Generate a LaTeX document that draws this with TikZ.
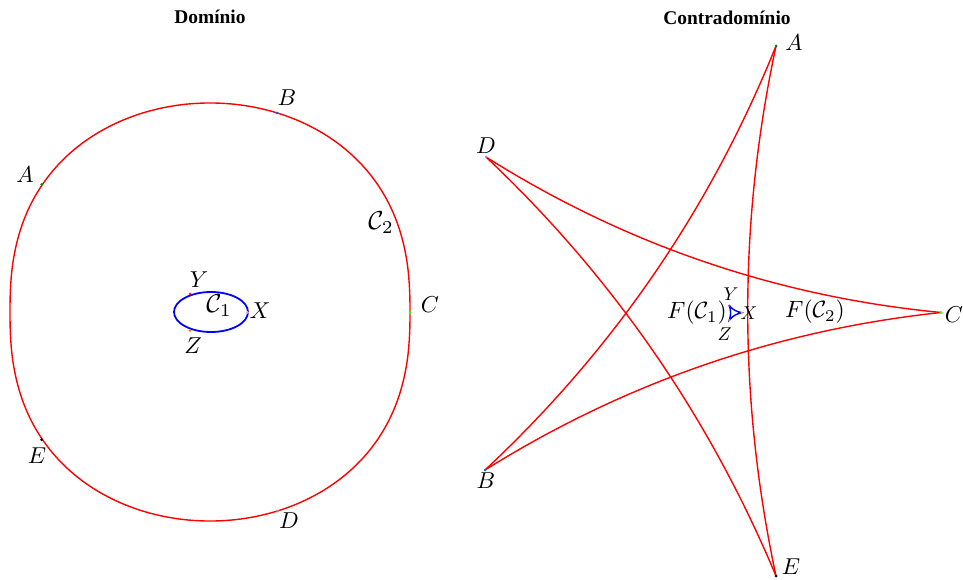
\documentclass[tikz,border=0pt]{standalone}
\usepackage{fontspec}
\newfontfamily\titlefont{Liberation Serif}
\usetikzlibrary{calc}
\newcommand\staredge[3]{\draw[edge] (#1) .. controls ($(#1)!0.3333!(#2)!#3!90:(#2)$) and ($(#1)!0.6667!(#2)!#3!90:(#2)$) .. (#2);}
\begin{document}
\begin{tikzpicture}[x=1pt,y=-1pt,
  edge/.style={red, line width=1.4pt},
  innercurve/.style={blue, line width=1.8pt},
  lab/.style={scale=2.3, inner sep=0pt},
  clab/.style={scale=2.6, inner sep=0pt},
  slab/.style={scale=1.85, inner sep=0pt},
  flab/.style={scale=2.35, inner sep=0pt},
  ttl/.style={font=\titlefont\bfseries\fontsize{19.4}{21}\selectfont, inner sep=0pt},
  pt/.style={circle, fill=#1, inner sep=0pt, minimum size=3pt}]
\useasboundingbox (0,0) rectangle (963,580);

% titles
\node[ttl] (t1) at (210,17) {Domínio};
\node[ttl] (t2) at (727,18) {Contradomínio};

% ---------- domain ----------
\draw[edge] plot[smooth cycle, domain=1:359, samples=180, variable=\t]
  ({210+200*cos(\t)}, {312-209*sign(sin(\t))*abs(sin(\t))^0.8163});
\draw[innercurve] (211,312) ellipse [x radius=37, y radius=20];

\node[pt=green!55!black] (dA) at (41.7,184.3) {};
\node[pt=blue!60!cyan] (dB) at (277,113) {};
\node[pt=green!80!yellow] (dC) at (410,312.5) {};
\node[pt=violet!50] (dD) at (277.7,511) {};
\node[pt=black] (dE) at (41.7,439.7) {};
\node[pt=magenta] (dY) at (190,294) {};
\node[pt=red!40] (dX) at (247.5,312.3) {};
\node[pt=orange] (dZ) at (190,330.5) {};

\node[lab] (lA) at (25,175) {$A$};
\node[lab] (lB) at (287,98) {$B$};
\node[lab] (lC) at (430,305) {$C$};
\node[lab] (lD) at (289,521) {$D$};
\node[lab] (lE) at (37,456) {$E$};
\node[clab] (lC2) at (381,223) {$\mathcal{C}_2$};
\node[clab] (lC1) at (219,306) {$\mathcal{C}_1$};
\node[lab] (lY) at (199,280) {$Y$};
\node[lab] (lX) at (260,311) {$X$};
\node[lab] (lZ) at (193,346) {$Z$};

% ---------- codomain ----------
\coordinate (SA) at (776,46);
\coordinate (SB) at (485,470);
\coordinate (SC) at (941,312.5);
\coordinate (SD) at (486,157);
\coordinate (SE) at (776,576);
\staredge{SA}{SB}{38pt}
\staredge{SB}{SC}{37pt}
\staredge{SC}{SD}{38pt}
\staredge{SD}{SE}{36pt}
\staredge{SE}{SA}{37.7pt}

\coordinate (fY) at (729.3,305.7);
\coordinate (fX) at (741.7,312.7);
\coordinate (fZ) at (729.3,320);
\draw[blue, line width=1.4pt] (fY) to[bend right=18] (fX) to[bend right=18] (fZ) to[bend right=18] (fY);

\node[pt=green!55!black] (rA) at (SA) {};
\node[pt=blue!60!cyan] (rB) at (SB) {};
\node[pt=green!80!yellow] (rC) at (SC) {};
\node[pt=violet!50] (rD) at (SD) {};
\node[pt=black] (rE) at (SE) {};
\node[pt=magenta, minimum size=2.5pt] (rY) at (fY) {};
\node[pt=red!40, minimum size=2.5pt] (rX) at (fX) {};
\node[pt=orange, minimum size=2.5pt] (rZ) at (fZ) {};

\node[lab] (mA) at (794,43) {$A$};
\node[lab] (mB) at (486,481) {$B$};
\node[lab] (mC) at (954,315) {$C$};
\node[lab] (mD) at (486,146) {$D$};
\node[lab] (mE) at (791,567) {$E$};
\node[slab] (mY) at (731,294) {$Y$};
\node[slab] (mX) at (749,313.5) {$X$};
\node[slab] (mZ) at (724.5,334) {$Z$};
\node[flab] (mF1) at (697,313) {$F(\mathcal{C}_1)$};
\node[flab] (mF2) at (815,312) {$F(\mathcal{C}_2)$};
\end{tikzpicture}
\end{document}
